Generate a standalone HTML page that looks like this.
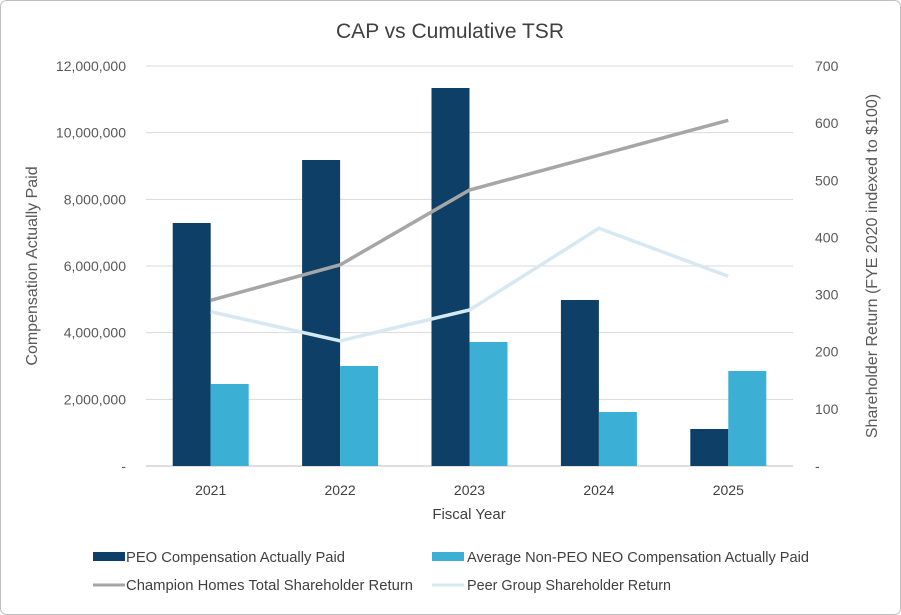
<!DOCTYPE html>
<html><head><meta charset="utf-8"><style>
body{margin:0;background:#fff;}
svg{display:block;font-family:"Liberation Sans",sans-serif;}
.lg{font-family:"Liberation Sans Narrow","Liberation Sans",sans-serif;}
</style></head><body>
<svg id="chart" width="901" height="615" viewBox="0 0 901 615">
<rect x="0.5" y="0.5" width="900" height="614" rx="6" fill="#fff" stroke="#bfbfbf"/>
<text x="450" y="38" text-anchor="middle" font-size="21" fill="#404040">CAP vs Cumulative TSR</text>
<g id="grid"></g><g id="bars"></g><g id="lines"></g><g id="axes"></g>
<text transform="translate(37,266) rotate(-90)" text-anchor="middle" font-size="16" fill="#595959">Compensation Actually Paid</text>
<text transform="translate(877,266) rotate(-90)" text-anchor="middle" font-size="16" fill="#595959">Shareholder Return (FYE 2020 indexed to $100)</text>
<text x="469" y="519" text-anchor="middle" font-size="15" fill="#404040">Fiscal Year</text>
<g font-size="15" fill="#404040" class="lg">
<g><rect x="93" y="552" width="32" height="9" fill="#0e3f66"/><text x="126" y="562" textLength="219" lengthAdjust="spacingAndGlyphs">PEO Compensation Actually Paid</text></g>
<g><rect x="432" y="552" width="32" height="9" fill="#3cb0d4"/><text x="467" y="562" textLength="342" lengthAdjust="spacingAndGlyphs">Average Non-PEO NEO Compensation Actually Paid</text></g>
<g><line x1="93" y1="585" x2="125" y2="585" stroke="#a6a6a6" stroke-width="3"/><text x="126" y="590" textLength="287" lengthAdjust="spacingAndGlyphs">Champion Homes Total Shareholder Return</text></g>
<g><line x1="432" y1="585" x2="464" y2="585" stroke="#d6e9f3" stroke-width="3"/><text x="467" y="590" textLength="204" lengthAdjust="spacingAndGlyphs">Peer Group Shareholder Return</text></g>
</g>
</svg>
<script>
const years=["2021","2022","2023","2024","2025"];
const peoCap=[7290000,9180000,11340000,4980000,1110000];
const nonPeoCap=[2460000,3000000,3720000,1620000,2850000];
const championTsr=[290,352,483,544,605];
const peerTsr=[270,219,273,416,332];
const leftTicks=[0,2000000,4000000,6000000,8000000,10000000,12000000];
const rightTicks=[0,100,200,300,400,500,600,700];
const NS="http://www.w3.org/2000/svg";
const L=146,R=793,T=66,B=466;
const yL=v=>B-(v/12000000)*(B-T);
const yR=v=>B-(v/700)*(B-T);
const step=(R-L)/years.length;
const xc=i=>L+step*(i+0.5);
function mk(tag,attrs,parent,text){const e=document.createElementNS(NS,tag);for(const k in attrs)e.setAttribute(k,attrs[k]);if(text!==undefined)e.textContent=text;document.getElementById(parent).appendChild(e);return e;}
leftTicks.forEach(v=>{
 const g=mk("line",{x1:L,x2:R,y1:yL(v),y2:yL(v),stroke:v===0?"#bfbfbf":"#d9d9d9","stroke-width":1},"grid");
 
 
 const t=mk("text",{x:126,y:yL(v)+5,"text-anchor":"end","font-size":14,fill:"#595959"},"axes",v===0?"-":v.toLocaleString("en-US"));
 
 
});
rightTicks.forEach(v=>{
 const t=mk("text",{x:815,y:yR(v)+5,"font-size":14,fill:"#595959"},"axes",v===0?"-":String(v));
 
 
});
const bw=38;
years.forEach((y,i)=>{
 const t=mk("text",{x:xc(i),y:495,"text-anchor":"middle","font-size":14,fill:"#404040"},"axes",y);
 
 
 const b1=mk("rect",{x:xc(i)-bw,y:yL(peoCap[i]),width:bw,height:B-yL(peoCap[i]),fill:"#0e3f66"},"bars");
 
 
 const b2=mk("rect",{x:xc(i),y:yL(nonPeoCap[i]),width:bw,height:B-yL(nonPeoCap[i]),fill:"#3cb0d4"},"bars");
 
 
});
const p1=mk("polyline",{points:championTsr.map((v,i)=>xc(i)+","+yR(v)).join(" "),fill:"none",stroke:"#a6a6a6","stroke-width":3.5},"lines");


const p2=mk("polyline",{points:peerTsr.map((v,i)=>xc(i)+","+yR(v)).join(" "),fill:"none",stroke:"#d6e9f3","stroke-width":3.5},"lines");


</script>
</body></html>
